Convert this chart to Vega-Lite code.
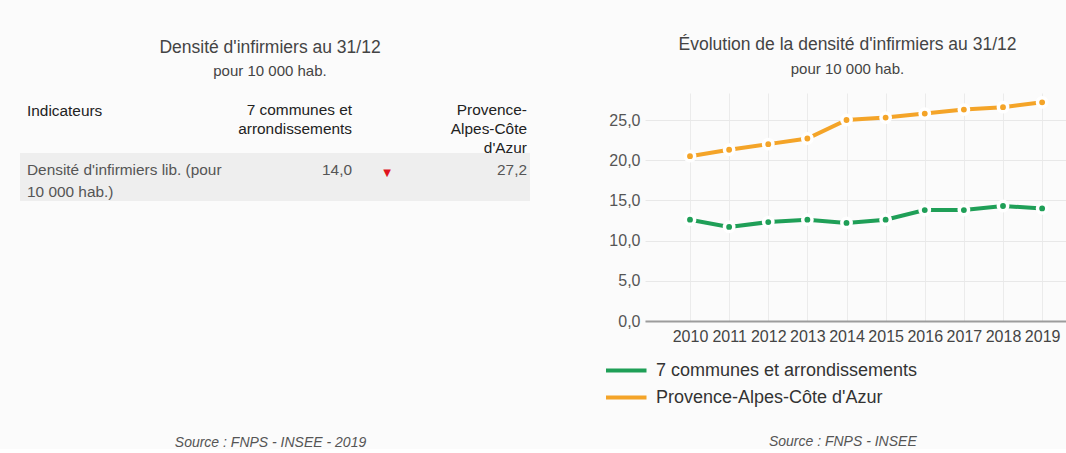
{
  "$schema": "https://vega.github.io/schema/vega-lite/v6.json",
  "background": "#fbfbfb",
  "padding": {"top": 36, "left": 0, "right": 0, "bottom": 0},
  "bounds": "flush",
  "spacing": 105,
  "config": {
    "font": "Liberation Sans",
    "view": {"stroke": null},
    "title": {"fontSize": 17.5, "fontWeight": "normal", "color": "#444444", "subtitleFontSize": 15, "subtitleColor": "#444444", "subtitlePadding": 8, "offset": 14, "anchor": "middle"}
  },
  "datasets": {
    "tableau": [
      {"ligne": "entete", "colonne": 2, "texte": "Indicateurs"},
      {"ligne": "entete", "colonne": 3, "texte": "7 communes et\narrondissements"},
      {"ligne": "entete", "colonne": 5, "texte": "Provence-\nAlpes-Côte\nd'Azur"},
      {"ligne": "donnee", "colonne": 2, "texte": "Densité d'infirmiers lib. (pour\n10 000 hab.)"},
      {"ligne": "donnee", "colonne": 3, "texte": "14,0"},
      {"ligne": "donnee", "colonne": 4, "texte": "▼"},
      {"ligne": "donnee", "colonne": 5, "texte": "27,2"}
    ],
    "evolution": [
      {"annee": 2010, "territoire": "7 communes et arrondissements", "densite": 12.6},
      {"annee": 2011, "territoire": "7 communes et arrondissements", "densite": 11.7},
      {"annee": 2012, "territoire": "7 communes et arrondissements", "densite": 12.3},
      {"annee": 2013, "territoire": "7 communes et arrondissements", "densite": 12.6},
      {"annee": 2014, "territoire": "7 communes et arrondissements", "densite": 12.2},
      {"annee": 2015, "territoire": "7 communes et arrondissements", "densite": 12.6},
      {"annee": 2016, "territoire": "7 communes et arrondissements", "densite": 13.8},
      {"annee": 2017, "territoire": "7 communes et arrondissements", "densite": 13.8},
      {"annee": 2018, "territoire": "7 communes et arrondissements", "densite": 14.3},
      {"annee": 2019, "territoire": "7 communes et arrondissements", "densite": 14.0},
      {"annee": 2010, "territoire": "Provence-Alpes-Côte d'Azur", "densite": 20.5},
      {"annee": 2011, "territoire": "Provence-Alpes-Côte d'Azur", "densite": 21.3},
      {"annee": 2012, "territoire": "Provence-Alpes-Côte d'Azur", "densite": 22.0},
      {"annee": 2013, "territoire": "Provence-Alpes-Côte d'Azur", "densite": 22.7},
      {"annee": 2014, "territoire": "Provence-Alpes-Côte d'Azur", "densite": 25.0},
      {"annee": 2015, "territoire": "Provence-Alpes-Côte d'Azur", "densite": 25.3},
      {"annee": 2016, "territoire": "Provence-Alpes-Côte d'Azur", "densite": 25.8},
      {"annee": 2017, "territoire": "Provence-Alpes-Côte d'Azur", "densite": 26.3},
      {"annee": 2018, "territoire": "Provence-Alpes-Côte d'Azur", "densite": 26.6},
      {"annee": 2019, "territoire": "Provence-Alpes-Côte d'Azur", "densite": 27.2}
    ]
  },
  "hconcat": [
    {
      "width": 540,
      "height": 108,
      "title": {"text": "Densité d'infirmiers au 31/12", "subtitle": "pour 10 000 hab."},
      "encoding": {
        "x": {
          "field": "colonne",
          "type": "quantitative",
          "scale": {"domain": [0, 1, 2, 3, 4, 5, 6, 7], "range": [0, 20, 27, 352, 387, 527, 530, 540], "nice": false, "zero": false},
          "axis": {"title": "Source : FNPS - INSEE - 2019", "labels": false, "ticks": false, "domain": false, "grid": false, "titleFontStyle": "italic", "titleFontWeight": "normal", "titleFontSize": 14, "titleColor": "#555555", "titlePadding": 234}
        }
      },
      "layer": [
        {
          "data": {"values": [{"ligne": "donnee", "colonne": 1, "fin": 6}]},
          "mark": {"type": "rect", "color": "#eeeeee"},
          "encoding": {
            "x2": {"field": "fin"},
            "y": {"field": "ligne", "type": "nominal", "axis": null, "scale": {"domain": ["entete", "donnee"], "paddingInner": 0.2, "paddingOuter": 0}}
          }
        },
        {
          "data": {"name": "tableau"},
          "transform": [{"filter": "datum.ligne == 'entete' && datum.colonne == 2"}],
          "mark": {"type": "text", "align": "left", "baseline": "top", "dy": 11, "fontSize": 15.4, "color": "#222222", "lineBreak": "\n", "lineHeight": 19},
          "encoding": {
            "y": {"field": "ligne", "type": "nominal", "bandPosition": 0, "axis": null},
            "text": {"field": "texte"}
          }
        },
        {
          "data": {"name": "tableau"},
          "transform": [{"filter": "datum.ligne == 'entete' && datum.colonne != 2"}],
          "mark": {"type": "text", "align": "right", "baseline": "top", "dy": 10, "fontSize": 15.4, "color": "#222222", "lineBreak": "\n", "lineHeight": 19},
          "encoding": {
            "y": {"field": "ligne", "type": "nominal", "bandPosition": 0, "axis": null},
            "text": {"field": "texte"}
          }
        },
        {
          "data": {"name": "tableau"},
          "transform": [{"filter": "datum.ligne == 'donnee' && datum.colonne == 2"}],
          "mark": {"type": "text", "align": "left", "baseline": "top", "dy": 10, "fontSize": 15.4, "color": "#555555", "lineBreak": "\n", "lineHeight": 22},
          "encoding": {
            "y": {"field": "ligne", "type": "nominal", "bandPosition": 0, "axis": null},
            "text": {"field": "texte"}
          }
        },
        {
          "data": {"name": "tableau"},
          "transform": [{"filter": "datum.ligne == 'donnee' && (datum.colonne == 3 || datum.colonne == 5)"}],
          "mark": {"type": "text", "align": "right", "baseline": "top", "dy": 10, "fontSize": 15.4, "color": "#555555"},
          "encoding": {
            "y": {"field": "ligne", "type": "nominal", "bandPosition": 0, "axis": null},
            "text": {"field": "texte"}
          }
        },
        {
          "data": {"name": "tableau"},
          "transform": [{"filter": "datum.colonne == 4"}],
          "mark": {"type": "text", "align": "center", "baseline": "top", "dy": 15, "fontSize": 10, "font": "DejaVu Sans", "color": "#e0141e"},
          "encoding": {
            "y": {"field": "ligne", "type": "nominal", "bandPosition": 0, "axis": null},
            "text": {"field": "texte"}
          }
        }
      ]
    },
    {
      "width": 421,
      "height": 228,
      "title": {"text": "Évolution de la densité d'infirmiers au 31/12", "subtitle": "pour 10 000 hab.", "dx": -8},
      "data": {"name": "evolution"},
      "encoding": {
        "x": {
          "field": "annee",
          "type": "quantitative",
          "scale": {"domain": [2008.85, 2019.61], "nice": false, "zero": false},
          "axis": {"title": null, "values": [2010, 2011, 2012, 2013, 2014, 2015, 2016, 2017, 2018, 2019], "format": "d", "grid": true, "gridColor": "#ebebeb", "ticks": false, "domain": true, "domainColor": "#9c9c9c", "domainWidth": 2, "labelFontSize": 16, "labelColor": "#444444", "labelPadding": 7, "labelOverlap": false, "labelFlush": false}
        },
        "y": {
          "field": "densite",
          "type": "quantitative",
          "scale": {"domain": [0, 28.36], "nice": false},
          "axis": {"title": null, "values": [0, 5, 10, 15, 20, 25], "labelExpr": "replace(format(datum.value, '.1f'), '.', ',')", "grid": true, "gridColor": "#e8e8e8", "domain": false, "ticks": false, "labelFontSize": 16, "labelColor": "#555555", "labelPadding": 5}
        },
        "color": {
          "field": "territoire",
          "type": "nominal",
          "scale": {"domain": ["7 communes et arrondissements", "Provence-Alpes-Côte d'Azur"], "range": ["#1f9f57", "#f4a428"]}
        }
      },
      "layer": [
        {
          "mark": {"type": "line", "strokeWidth": 4},
          "encoding": {
            "color": {
              "field": "territoire",
              "type": "nominal",
              "legend": {"orient": "none", "legendX": 610.75, "legendY": 262, "direction": "vertical", "symbolType": "M-1.5,0H1.5", "symbolSize": 729, "symbolStrokeWidth": 4, "labelFontSize": 18, "labelColor": "#333333", "labelOffset": 14.25, "labelLimit": 0, "rowPadding": 2, "title": "Source : FNPS - INSEE", "titleOrient": "bottom", "titleAnchor": "end", "titleFontStyle": "italic", "titleFontWeight": "normal", "titleFontSize": 14, "titleColor": "#555555", "titlePadding": 28}
            }
          }
        },
        {
          "mark": {"type": "point", "filled": true, "size": 87, "stroke": "#ffffff", "strokeWidth": 3.5, "opacity": 1},
          "encoding": {
            "color": {"field": "territoire", "type": "nominal", "legend": null}
          }
        }
      ]
    }
  ]
}
